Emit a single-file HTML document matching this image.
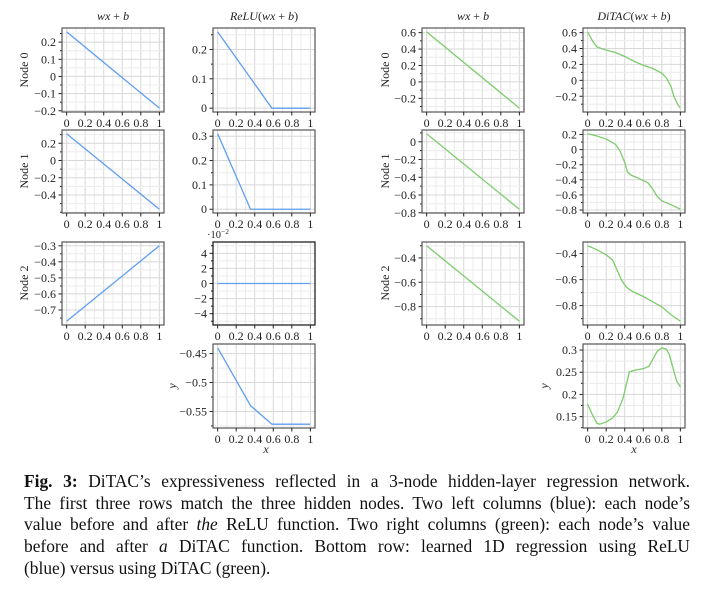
<!DOCTYPE html>
<html><head><meta charset="utf-8">
<style>
body{margin:0;background:#fff;width:714px;height:594px;overflow:hidden;position:relative;font-family:"Liberation Serif",serif;}
svg{position:absolute;left:0;top:0;}
#caption{position:absolute;left:24px;top:471px;width:666px;font-size:17.4px;line-height:21.7px;color:#111;}
#caption .ln{text-align:justify;text-align-last:justify;white-space:nowrap;}
#caption .ln.last{text-align-last:left;}
</style></head><body>
<svg id="chart" width="714" height="470" viewBox="0 0 714 470"></svg>
<div id="caption">
<div class="ln"><b>Fig. 3:</b> DiTAC’s expressiveness reflected in a 3-node hidden-layer regression network.</div>
<div class="ln">The first three rows match the three hidden nodes. Two left columns (blue): each node’s</div>
<div class="ln">value before and after <i>the</i> ReLU function. Two right columns (green): each node’s value</div>
<div class="ln">before and after <i>a</i> DiTAC function. Bottom row: learned 1D regression using ReLU</div>
<div class="ln last">(blue) versus using DiTAC (green).</div>
</div>
<script>
// ---- data ----
const xTicks=[0,0.2,0.4,0.6,0.8,1];
const xTickLabels=["0","0.2","0.4","0.6","0.8","1"];
const linX=[0,1];
const n0Lin=[0.26,-0.185];
const n1Lin=[0.31,-0.565];
const n2Lin=[-0.77,-0.30];
const n0ReluX=[0,0.585,1];const n0Relu=[0.26,0,0];
const n1ReluX=[0,0.355,1];const n1Relu=[0.31,0,0];
const n2ReluX=[0,1];const n2Relu=[0,0];
const outReluX=[0,0.355,0.585,1];const outRelu=[-0.44,-0.54,-0.572,-0.572];
const g0Lin=[0.61,-0.32];
const g1Lin=[0.09,-0.76];
const g2Lin=[-0.30,-0.92];
const g0X=[0,0.05,0.1,0.2,0.3,0.4,0.5,0.6,0.7,0.8,0.85,0.9,0.93,0.97,1];
const g0Y=[0.61,0.5,0.42,0.38,0.35,0.3,0.24,0.19,0.15,0.09,0.03,-0.08,-0.2,-0.3,-0.35];
const g1X=[0,0.1,0.2,0.3,0.35,0.4,0.43,0.47,0.55,0.65,0.7,0.75,0.8,0.9,1];
const g1Y=[0.21,0.18,0.14,0.07,-0.02,-0.17,-0.3,-0.34,-0.38,-0.44,-0.52,-0.62,-0.68,-0.73,-0.79];
const g2X=[0,0.1,0.2,0.27,0.32,0.37,0.42,0.48,0.6,0.7,0.8,0.9,1];
const g2Y=[-0.34,-0.37,-0.41,-0.45,-0.53,-0.61,-0.66,-0.69,-0.73,-0.77,-0.81,-0.87,-0.92];
const outDitacX=[0,0.05,0.1,0.13,0.2,0.27,0.32,0.38,0.42,0.45,0.5,0.6,0.66,0.7,0.75,0.8,0.85,0.88,0.92,0.96,1];
const outDitac=[0.178,0.155,0.135,0.133,0.138,0.147,0.16,0.19,0.225,0.251,0.254,0.258,0.263,0.278,0.297,0.305,0.302,0.29,0.26,0.23,0.217];
const yT_a=[-0.2,-0.1,0,0.1,0.2];
const yT_b=[-0.4,-0.2,0,0.2];
const yT_c=[-0.7,-0.6,-0.5,-0.4,-0.3];
const yT_d=[0,0.1,0.2];
const yT_e=[0,0.1,0.2,0.3];
const yT_f=[-0.04,-0.02,0,0.02,0.04];
const yT_g=[-0.55,-0.5,-0.45];
const yT_h=[-0.2,0,0.2,0.4,0.6];
const yT_i=[-0.8,-0.6,-0.4,-0.2,0];
const yT_j=[-0.8,-0.6,-0.4];
const yT_k=[-0.8,-0.6,-0.4,-0.2,0,0.2];
const yT_l=[0.15,0.2,0.25,0.3];

const BLUE="#5f9ef2",GREEN="#7dcc6c";
const cols=[62,213,422,583];const W=102;
const rows=[[28,112],[130,213],[242,325],[344,428]];
const panels=[
 {n:"node0-linear-blue",c:0,r:0,x:linX,y:n0Lin,t:yT_a,col:BLUE},
 {n:"node1-linear-blue",c:0,r:1,x:linX,y:n1Lin,t:yT_b,col:BLUE},
 {n:"node2-linear-blue",c:0,r:2,x:linX,y:n2Lin,t:yT_c,col:BLUE},
 {n:"node0-relu",c:1,r:0,x:n0ReluX,y:n0Relu,t:yT_d,col:BLUE},
 {n:"node1-relu",c:1,r:1,x:n1ReluX,y:n1Relu,t:yT_e,col:BLUE},
 {n:"node2-relu",c:1,r:2,x:n2ReluX,y:n2Relu,t:yT_f,col:BLUE,scale:100,black:true},
 {n:"regression-relu",c:1,r:3,x:outReluX,y:outRelu,t:yT_g,col:BLUE},
 {n:"node0-linear-green",c:2,r:0,x:linX,y:g0Lin,t:yT_h,col:GREEN},
 {n:"node1-linear-green",c:2,r:1,x:linX,y:g1Lin,t:yT_i,col:GREEN},
 {n:"node2-linear-green",c:2,r:2,x:linX,y:g2Lin,t:yT_j,col:GREEN},
 {n:"node0-ditac",c:3,r:0,x:g0X,y:g0Y,t:yT_h,col:GREEN},
 {n:"node1-ditac",c:3,r:1,x:g1X,y:g1Y,t:yT_k,col:GREEN},
 {n:"node2-ditac",c:3,r:2,x:g2X,y:g2Y,t:yT_j,col:GREEN},
 {n:"regression-ditac",c:3,r:3,x:outDitacX,y:outDitac,t:yT_l,col:GREEN}
];
const svg=document.getElementById('chart');
const NS="http://www.w3.org/2000/svg";
function mk(tag,attrs,parent){const e=document.createElementNS(NS,tag);for(const k in attrs)e.setAttribute(k,attrs[k]);(parent||svg).appendChild(e);return e;}
function fmt(v,s){v=Math.round(v*s*1000)/1000;if(v===0)return "0";return (v<0?"−":"")+String(Math.abs(v));}
panels.forEach(p=>{
 const x0=cols[p.c],x1=x0+W,y0=rows[p.r][0],y1=rows[p.r][1];
 const g=mk('g',{});
 
 
 let lo=Math.min(...p.y),hi=Math.max(...p.y);
 if(hi-lo<1e-9){lo-=0.05;hi+=0.05;}
 const m=(hi-lo)*0.05;lo-=m;hi+=m;
 const sx=v=>x0+(v+0.05)/1.1*W;
 const sy=v=>y1-(v-lo)/(hi-lo)*(y1-y0);
 for(let i=0;i<=10;i++){const v=i/10,X=sx(v);mk('line',{x1:X,x2:X,y1:y0,y2:y1,stroke:i%2?"#ececec":"#d8d8d8","stroke-width":1},g);}
 const step=p.t[1]-p.t[0];
 for(let v=p.t[0]-step;v<=p.t[p.t.length-1]+step+1e-9;v+=step/2){const Y=sy(v);if(Y<y0||Y>y1)continue;
  const major=p.t.some(t=>Math.abs(t-v)<1e-9);
  mk('line',{x1:x0,x2:x1,y1:Y,y2:Y,stroke:major?"#d8d8d8":"#ececec","stroke-width":1},g);
  mk('line',{x1:x0-(major?3.5:2),x2:x0,y1:Y,y2:Y,stroke:"#222","stroke-width":1},g);}
 const pts=p.x.map((v,i)=>sx(v).toFixed(2)+","+sy(p.y[i]).toFixed(2)).join(" ");
 const pl=mk('polyline',{points:pts,fill:"none",stroke:p.col,"stroke-width":1.3},g);
 
 
 mk('rect',{x:x0,y:y0,width:W,height:y1-y0,fill:"none",stroke:p.black?"#111":"#555","stroke-width":1.2},g);
 p.t.forEach(v=>{const Y=sy(v);const t=mk('text',{x:x0-6,y:Y+4,"text-anchor":"end","font-size":"12","fill":"#222"},g);t.textContent=fmt(v,p.scale||1);
  
  });
 xTicks.forEach((v,i)=>{const X=sx(v);mk('line',{x1:X,x2:X,y1:y1,y2:y1+3.5,stroke:"#222"},g);
  const t=mk('text',{x:X,y:y1+15,"text-anchor":"middle","font-size":"12","fill":"#222"},g);t.textContent=xTickLabels[i];
  
  });
 if(p.scale){const t=mk('text',{x:x0-6,y:y0-4,"font-size":"10.5","fill":"#222"},g);t.innerHTML='·10<tspan dy="-4" font-size="7.5">−2</tspan>';
  
  }
});
function txt(s,x,y,o,name){const t=mk('text',Object.assign({x:x,y:y,"font-size":"12","fill":"#222","text-anchor":"middle"},o||{}));t.innerHTML=s;
 
 return t;}
txt('<tspan font-style="italic">wx</tspan> + <tspan font-style="italic">b</tspan>',113,20,{},"title-linear-blue");
txt('<tspan font-style="italic">ReLU</tspan>(<tspan font-style="italic">wx</tspan> + <tspan font-style="italic">b</tspan>)',264,20,{},"title-relu");
txt('<tspan font-style="italic">wx</tspan> + <tspan font-style="italic">b</tspan>',473,20,{},"title-linear-green");
txt('<tspan font-style="italic">DiTAC</tspan>(<tspan font-style="italic">wx</tspan> + <tspan font-style="italic">b</tspan>)',634,20,{},"title-ditac");
[["Node 0",70],["Node 1",171],["Node 2",283]].forEach((a,i)=>{
 txt(a[0],28,a[1],{transform:`rotate(-90 28 ${a[1]})`},"row-label-node"+i);
 txt(a[0],389,a[1],{transform:`rotate(-90 389 ${a[1]})`},"row-label-green-node"+i);
});
txt('<tspan font-style="italic">y</tspan>',176,386,{transform:"rotate(-90 176 386)"},"y-axis-title-relu");
txt('<tspan font-style="italic">y</tspan>',548,386,{transform:"rotate(-90 548 386)"},"y-axis-title-ditac");
txt('<tspan font-style="italic">x</tspan>',266,453,{},"x-axis-title-relu");
txt('<tspan font-style="italic">x</tspan>',634,453,{},"x-axis-title-ditac");
</script>
</body></html>
